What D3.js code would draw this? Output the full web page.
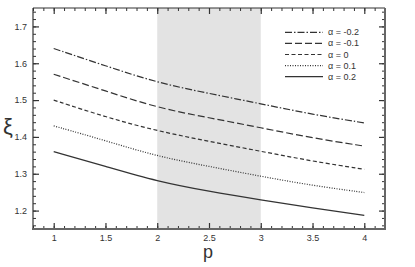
<!DOCTYPE html>
<html>
<head>
<meta charset="utf-8">
<script src="https://cdn.jsdelivr.net/npm/d3@7"></script>
<style>
  body { margin: 0; background: #fff; }
  text { font-family: "Liberation Sans", Arial, sans-serif; fill: #333; }
</style>
</head>
<body>
<div id="chart"></div>
<script>
const pValues = [1, 1.5, 2, 2.5, 3, 3.5, 4];
const alphaLabels = ['α = -0.2', 'α = -0.1', 'α = 0', 'α = 0.1', 'α = 0.2'];
const xiAlphaM02 = [1.640, 1.593, 1.547, 1.518, 1.490, 1.461, 1.438];
const xiAlphaM01 = [1.570, 1.525, 1.479, 1.452, 1.425, 1.397, 1.375];
const xiAlpha0 = [1.500, 1.454, 1.416, 1.388, 1.361, 1.334, 1.312];
const xiAlpha01 = [1.430, 1.390, 1.347, 1.320, 1.293, 1.268, 1.249];
const xiAlpha02 = [1.360, 1.320, 1.279, 1.252, 1.229, 1.207, 1.187];
const shadedRange = [2, 3];
const xTicks = [1, 1.5, 2, 2.5, 3, 3.5, 4];
const yTicks = [1.2, 1.3, 1.4, 1.5, 1.6, 1.7];

(function() {
  'use strict';

  const series = [xiAlphaM02, xiAlphaM01, xiAlpha0, xiAlpha01, xiAlpha02];
  const dashes = ['7,2,1.5,2', '7,3', '4,2.5', '1,1.5', null];

  const w = 415, h = 267;
  const mLeft = 33, mRight = 385, mTop = 8, mBottom = 229;

  const svg = d3.select('#chart').append('svg')
    .attr('width', w).attr('height', h);

  const x = d3.scaleLinear().domain([0.8, 4.2]).range([mLeft, mRight]);
  const y = d3.scaleLinear().domain([1.15, 1.75]).range([mBottom, mTop]);

  // shaded band
  svg.append('rect')
    .attr('x', x(shadedRange[0]))
    .attr('y', mTop)
    .attr('width', x(shadedRange[1]) - x(shadedRange[0]))
    .attr('height', mBottom - mTop)
    .attr('fill', '#e3e3e3');

  // curves, smoothed through the read-off points
  const line = d3.line()
    .x((d, i) => x(pValues[i]))
    .y((d) => y(d))
    .curve(d3.curveBasis);

  series.forEach((s, i) => {
    svg.append('path')
      .attr('d', line(s))
      .attr('fill', 'none')
      .attr('stroke', '#333')
      .attr('stroke-width', 1.2)
      .attr('stroke-dasharray', dashes[i]);
  });

  // minor tick values
  const xMinor = d3.range(0.8, 4.21, 0.1).map((v) => +v.toFixed(2));
  const yMinor = d3.range(1.16, 1.751, 0.02).map((v) => +v.toFixed(2));

  function tickAxis(axis, scale, tx, major, minor, label) {
    svg.append('g')
      .attr('transform', tx)
      .call(axis(scale).tickValues(minor).tickSize(-3).tickFormat(''))
      .call((g) => g.select('.domain').remove())
      .call((g) => g.selectAll('line').attr('stroke', '#333'));
    const g = svg.append('g')
      .attr('transform', tx)
      .call(axis(scale).tickValues(major).tickSize(-6).tickPadding(label ? 6 : 0)
        .tickFormat(label ? d3.format('') : ''));
    g.select('.domain').remove();
    g.selectAll('line').attr('stroke', '#333').attr('stroke-width', 1.2);
    g.selectAll('text').attr('font-size', 9).attr('fill', '#333')
      .attr('font-family', '"Liberation Sans", Arial, sans-serif');
  }

  tickAxis(d3.axisBottom, x, 'translate(0,' + mBottom + ')', xTicks, xMinor, true);
  tickAxis(d3.axisTop, x, 'translate(0,' + mTop + ')', xTicks, xMinor, false);
  tickAxis(d3.axisLeft, y, 'translate(' + mLeft + ',0)', yTicks, yMinor, true);
  tickAxis(d3.axisRight, y, 'translate(' + mRight + ',0)', yTicks, yMinor, false);

  // frame
  svg.append('line').attr('x1', mLeft).attr('x2', mRight).attr('y1', mTop).attr('y2', mTop)
    .attr('stroke', '#333').attr('stroke-width', 1.2);
  svg.append('line').attr('x1', mLeft).attr('x2', mLeft).attr('y1', mTop).attr('y2', mBottom)
    .attr('stroke', '#333').attr('stroke-width', 1.2);
  svg.append('line').attr('x1', mLeft - 1).attr('x2', mRight + 1).attr('y1', mBottom).attr('y2', mBottom)
    .attr('stroke', '#666').attr('stroke-width', 2.2);
  svg.append('line').attr('x1', mRight).attr('x2', mRight).attr('y1', mTop).attr('y2', mBottom)
    .attr('stroke', '#666').attr('stroke-width', 2);

  // axis titles
  svg.append('text')
    .attr('x', 208).attr('y', 258)
    .attr('text-anchor', 'middle')
    .attr('font-size', 18)
    .text('p');
  svg.append('text')
    .attr('x', 8).attr('y', 134)
    .attr('text-anchor', 'middle')
    .attr('font-size', 22)
    .text('ξ');

  // legend
  const legend = svg.append('g');
  alphaLabels.forEach((lab, i) => {
    const ly = 32.3 + i * 11.1;
    legend.append('line')
      .attr('x1', 285).attr('x2', 323).attr('y1', ly).attr('y2', ly)
      .attr('stroke', '#333').attr('stroke-width', 1.2)
      .attr('stroke-dasharray', dashes[i]);
    legend.append('text')
      .attr('x', 328).attr('y', ly + 3)
      .attr('font-size', 9)
      .text(lab);
  });
}());
</script>
</body>
</html>
